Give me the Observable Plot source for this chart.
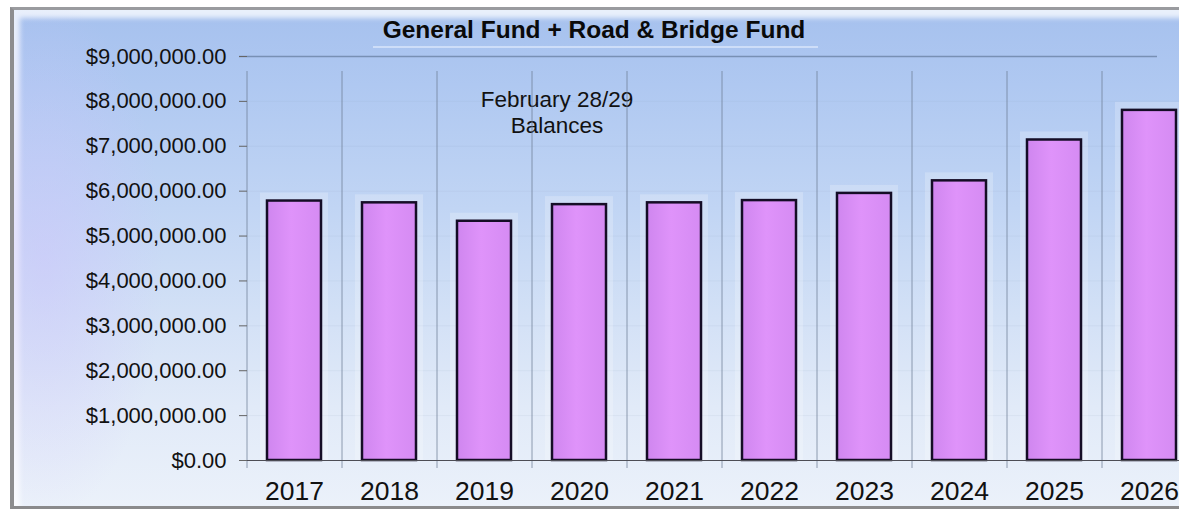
<!DOCTYPE html>
<html>
<head>
<meta charset="utf-8">
<script src="https://cdn.jsdelivr.net/npm/d3@7"></script>
<script src="https://cdn.jsdelivr.net/npm/@observablehq/plot@0.6"></script>
<style>
  html, body { margin: 0; padding: 0; width: 1179px; height: 511px; overflow: hidden; background: #fff; font-family: "Liberation Sans", Arial, sans-serif; }
  #wrap { position: relative; width: 1179px; height: 511px; }
  .frame {
    position: absolute; left: 10px; top: 7px; width: 1180px; height: 496px;
    border-left: 4px solid #8d8d8f; border-top: 3px solid #9a9b9f; border-bottom: 3px solid #8a8a8c;
    background: linear-gradient(180deg, #a6c1ee 0%, #afc8f1 15%, #c1d5f4 40%, #d3e1f6 62%, #e1eaf8 80%, #ebf1fa 100%);
    box-shadow: inset 8px 10px 5px -2px rgba(255,255,255,0.75);
  }
  .tint {
    position: absolute; left: 14px; top: 10px; width: 260px; height: 496px;
    background: radial-gradient(ellipse 120px 260px at 30px 50%, rgba(205,195,252,0.5), rgba(205,195,252,0));
  }
  .titlebox {
    position: absolute; left: 373px; top: 18px; width: 445px; height: 28px;
    border-bottom: 2px solid rgba(235,243,255,0.55);
  }
  .title {
    position: absolute; left: 294px; width: 600px; top: 16px; text-align: center;
    font-weight: bold; font-size: 24.5px; color: #0a0a0a;
  }
  .note {
    position: absolute; left: 437px; width: 240px; top: 87px; text-align: center;
    font-size: 22.5px; line-height: 26px; color: #111;
  }
  #chart { position: absolute; left: 0; top: 0; }
</style>
</head>
<body>
<div id="wrap">
  <div class="frame"></div>
  <div class="tint"></div>
  <div class="titlebox"></div>
  <div class="title">General Fund + Road &amp; Bridge Fund</div>
  <div class="note">February 28/29<br>Balances</div>
  <div id="chart"></div>
</div>
<script>
const years = ["2017", "2018", "2019", "2020", "2021", "2022", "2023", "2024", "2025", "2026"];
const balances = [5780000, 5740000, 5330000, 5700000, 5740000, 5790000, 5950000, 6230000, 7140000, 7800000];
const yTicks = [0, 1000000, 2000000, 3000000, 4000000, 5000000, 6000000, 7000000, 8000000, 9000000];

const data = years.map((year, i) => ({year, value: balances[i]}));

const xRange = [247, 1197];
const step = (xRange[1] - xRange[0]) / years.length;

const chart = Plot.plot({
  width: 1179,
  height: 511,
  marginTop: 56,
  marginBottom: 51,
  marginLeft: 247,
  marginRight: 0,
  style: {background: "transparent", fontFamily: "'Liberation Sans', Arial, sans-serif", color: "#111", overflow: "visible"},
  x: {type: "band", domain: years, range: xRange, paddingInner: 0.43, paddingOuter: 0.215},
  y: {domain: [0, 9000000]},
  marks: [
    Plot.ruleY(yTicks.slice(1, -1), {y: d => d, stroke: "#8a9ab8", strokeOpacity: 0.1, insetLeft: -8}),
    Plot.ruleX(years, {x: d => d, dx: -step / 2, stroke: "#6f7f96", strokeOpacity: 0.75, insetTop: 15, insetBottom: -8}),
    Plot.ruleY([9000000], {y: d => d, stroke: "#7890b4", strokeWidth: 1.5, insetLeft: -8, insetRight: 22}),
    Plot.barY(data, {x: "year", y: "value", fill: "white", fillOpacity: 0.22, insetLeft: -7, insetRight: -7, insetTop: -8}),
    Plot.barY(data, {x: "year", y: "value", fill: "url(#barGrad)", stroke: "#150d26", strokeWidth: 2.5}),
    Plot.ruleY([0], {y: d => d, stroke: "#4d4d55", strokeWidth: 1, insetLeft: -8}),
    Plot.axisY({ticks: yTicks, tickFormat: d3.format("$,.2f"), tickSize: 8, tickPadding: 13, fontSize: 22, stroke: "#666", label: null}),
    Plot.axisX({tickSize: 0, tickPadding: 21, fontSize: 26.5, label: null})
  ]
});

const ns = "http://www.w3.org/2000/svg";
const defs = document.createElementNS(ns, "defs");
defs.innerHTML = `<linearGradient id="barGrad" x1="0" y1="0" x2="1" y2="0">
  <stop offset="0%" stop-color="#cf86ef"/>
  <stop offset="45%" stop-color="#df93fa"/>
  <stop offset="100%" stop-color="#d58bf3"/>
</linearGradient>`;
chart.insertBefore(defs, chart.firstChild);
document.getElementById("chart").appendChild(chart);
</script>
</body>
</html>
